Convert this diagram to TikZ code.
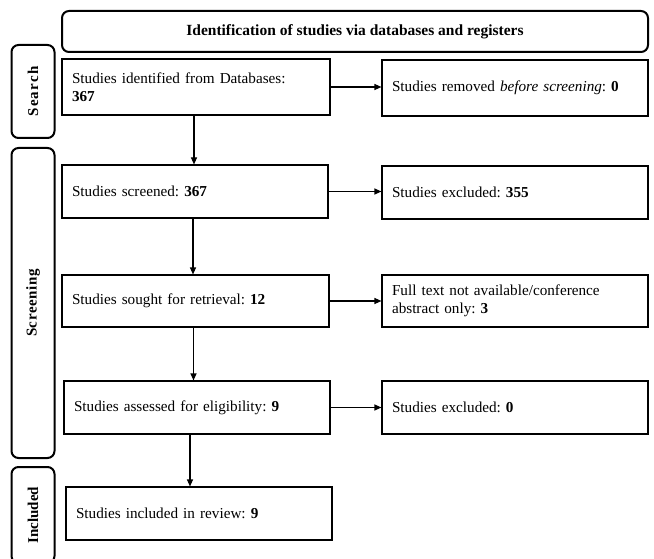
\documentclass[tikz,border=0pt]{standalone}
\usepackage{fontspec}
\setmainfont{Liberation Serif}
\usetikzlibrary{arrows.meta}
\frenchspacing
\begin{document}
\frenchspacing
\begin{tikzpicture}[x=1pt,y=-1pt,
  box/.style={draw=black,line width=1.1pt,rectangle,inner xsep=10pt,align=left,
    font=\fontsize{15.2}{18}\selectfont},
  lbl/.style={draw=black,line width=2pt,rounded corners=7pt,rectangle},
  arr/.style={-{Triangle[length=7pt,width=6pt]},line width=1.1pt}]
\useasboundingbox (0,0) rectangle (654,559);
% header
\node[lbl,minimum width=586pt,minimum height=41pt,font=\fontsize{15.5}{18}\selectfont\bfseries] (head) at (355,31.5) {Identification of studies via databases and registers};
% side labels
\node[lbl,minimum width=43pt,minimum height=93pt] (ls) at (33,91.5) {};
\node[rotate=90,font=\fontsize{15}{17}\selectfont\bfseries\addfontfeatures{LetterSpace=8}] (lst) at (ls.center) {Search};
\node[lbl,minimum width=43pt,minimum height=310pt] (lsc) at (33,303) {};
\node[rotate=90,font=\fontsize{15}{17}\selectfont\bfseries\addfontfeatures{LetterSpace=4}] (lsct) at (lsc.center) {Screening};
\node[lbl,minimum width=43pt,minimum height=96pt] (li) at (33,515) {};
\node[rotate=90,font=\fontsize{15}{17}\selectfont\bfseries] (lit) at (li.center) {Included};
% left column
\node[box,minimum width=268pt,minimum height=56pt,text width=248pt] (ident) at (196,87) {Studies identified from Databases:\\\textbf{367}};
\node[box,minimum width=266pt,minimum height=53pt,text width=246pt] (scr) at (195,191.5) {Studies screened: \textbf{367}};
\node[box,minimum width=267pt,minimum height=52pt,text width=247pt] (sought) at (195.5,301) {Studies sought for retrieval: \textbf{12}};
\node[box,minimum width=266pt,minimum height=53pt,text width=246pt] (elig) at (197,407.5) {Studies assessed for eligibility: \textbf{9}};
\node[box,minimum width=266pt,minimum height=53pt,text width=246pt] (incl) at (199,513.5) {Studies included in review: \textbf{9}};
% right column
\node[box,minimum width=266pt,minimum height=56pt,text width=246pt] (rem) at (515,88) {Studies removed \textit{before screening}: \textbf{0}};
\node[box,minimum width=266pt,minimum height=53pt,text width=246pt] (ex1) at (515,192.5) {Studies excluded: \textbf{355}};
\node[box,minimum width=266pt,minimum height=52pt,text width=246pt] (ft) at (515,301) {Full text not available/conference\\abstract only: \textbf{3}};
\node[box,minimum width=266pt,minimum height=53pt,text width=246pt] (ex2) at (515,407.5) {Studies excluded: \textbf{0}};
% arrows
\draw[arr] ([xshift=-2pt]ident.south) -- ([xshift=-2pt]ident.south |- scr.north);
\draw[arr] ([xshift=-2pt]scr.south) -- ([xshift=-2pt]scr.south |- sought.north);
\draw[arr] ([xshift=-2pt]sought.south) -- ([xshift=-2pt]sought.south |- elig.north);
\draw[arr] ([xshift=-7pt]elig.south) -- ([xshift=-7pt]elig.south |- incl.north);
\draw[arr] (ident.east) -- (ident.east -| rem.west);
\draw[arr] (scr.east) -- (scr.east -| ex1.west);
\draw[arr] (sought.east) -- (sought.east -| ft.west);
\draw[arr] (elig.east) -- (elig.east -| ex2.west);
\end{tikzpicture}
\end{document}
